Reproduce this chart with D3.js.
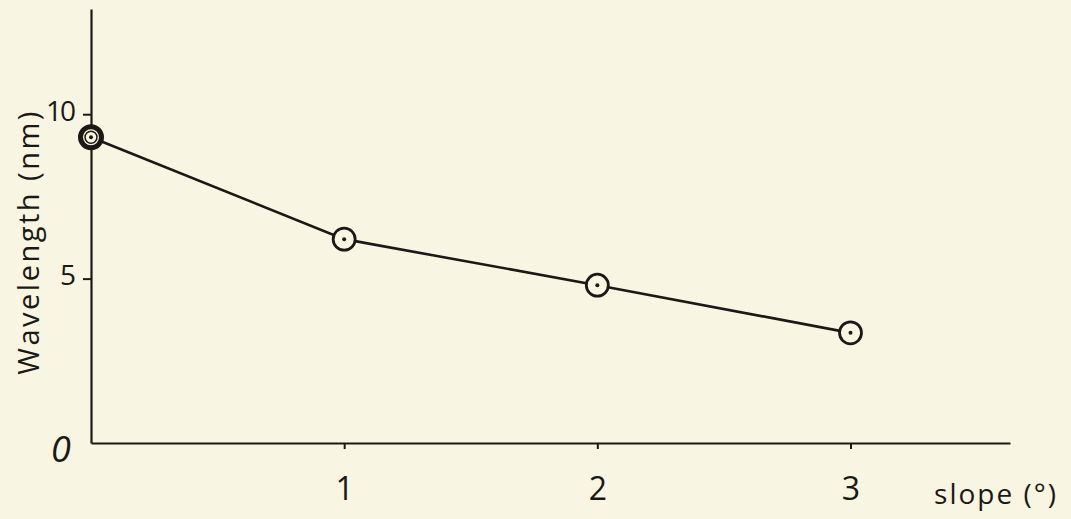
<!DOCTYPE html>
<html lang="en">
<head>
    <meta charset="UTF-8">
    <title>Wavelength vs slope</title>
    <script src="https://d3js.org/d3.v7.min.js" charset="utf-8"></script>
    <style>
        html, body {
            margin: 0;
            padding: 0;
            background: #f8f6e3;
        }
        svg {
            display: block;
            background: #f8f6e3;
        }
        text {
            font-family: 'Open Sans', sans-serif;
            fill: #1c1816;
        }
    </style>
</head>
<body>
    <div id="chart"></div>
    <script>
        // data
        var slopes = [0, 1, 2, 3];
        var wavelengths = [9.3, 6.2, 4.8, 3.35];
        var yTicks = [5, 10];
        var xTicks = [1, 2, 3];

        var svgwidth = 1071;
        var svgheight = 519;
        var ink = '#1c1816';
        var paper = '#f8f6e3';

        var svg = d3.select('#chart')
                    .append('svg')
                    .attr('width', svgwidth)
                    .attr('height', svgheight);

        // scales: origin at (91, 443), one slope unit ~253px, 5nm ~164.5px
        var x_scale = d3.scaleLinear()
                        .domain([0, 3.63])
                        .range([91, 1010]);

        var y_scale = d3.scaleLinear()
                        .domain([0, 13.2])
                        .range([443, 9]);

        var x_axis = d3.axisBottom(x_scale)
                        .tickValues(xTicks)
                        .tickSize(6)
                        .tickSizeOuter(0)
                        .tickPadding(28)
                        .tickFormat(d3.format('d'));

        var y_axis = d3.axisLeft(y_scale)
                        .tickValues(yTicks)
                        .tickSize(8)
                        .tickSizeOuter(0)
                        .tickPadding(9)
                        .tickFormat(d3.format('d'));

        var gx = svg.append('g')
            .attr('transform', 'translate(0,' + y_scale(0) + ')')
            .call(x_axis);

        var gy = svg.append('g')
            .attr('transform', 'translate(' + x_scale(0) + ',0)')
            .call(y_axis);

        // make the axes look like ink lines
        [gx, gy].forEach(function(g) {
            g.select('.domain')
                .attr('stroke', ink)
                .attr('stroke-width', 2.2);
            g.selectAll('.tick line')
                .attr('stroke', ink)
                .attr('stroke-width', 2);
            g.selectAll('.tick text')
                .attr('fill', ink)
                .style('font-family', "'Open Sans', sans-serif");
        });
        gx.selectAll('.tick text').style('font-size', '32px');
        gy.selectAll('.tick text')
            .style('font-size', '28px')
            .style('letter-spacing', '-2px')
            .attr('y', -3);

        // the origin label sits below left of the corner
        svg.append('text')
            .attr('x', x_scale(0) - 30)
            .attr('y', y_scale(0) + 19)
            .attr('text-anchor', 'middle')
            .style('font-size', '36px')
            .style('font-style', 'italic')
            .text('0');

        // axis titles
        svg.append('text')
            .attr('transform', 'translate(39,' + 242 + ') rotate(-90)')
            .attr('text-anchor', 'middle')
            .style('font-size', '29px')
            .style('letter-spacing', '2.5px')
            .text('Wavelength (nm)');

        svg.append('text')
            .attr('x', 996)
            .attr('y', 504)
            .attr('text-anchor', 'middle')
            .style('font-size', '28px')
            .style('letter-spacing', '2px')
            .text('slope (°)');

        var points = slopes.map(function(s, i) {
            return { slope: s, wl: wavelengths[i] };
        });

        var line = d3.line()
            .x(function(d) { return x_scale(d.slope); })
            .y(function(d) { return y_scale(d.wl); });

        svg.append('path')
            .datum(points)
            .attr('d', line)
            .attr('fill', 'none')
            .attr('stroke', ink)
            .attr('stroke-width', 2.6);

        // open circle markers with a dot in the middle
        svg.selectAll('.marker')
            .data(points)
            .enter().append('circle')
            .attr('class', 'marker')
            .attr('cx', function(d) { return x_scale(d.slope); })
            .attr('cy', function(d) { return y_scale(d.wl); })
            .attr('r', function(d, i) { return i === 0 ? 10.5 : 11; })
            .attr('fill', paper)
            .attr('stroke', ink)
            .attr('stroke-width', function(d, i) { return i === 0 ? 5 : 2.8; });

        // the first one was gone over twice
        svg.append('circle')
            .attr('cx', x_scale(slopes[0]))
            .attr('cy', y_scale(wavelengths[0]))
            .attr('r', 6)
            .attr('fill', 'none')
            .attr('stroke', ink)
            .attr('stroke-width', 1.5);

        svg.selectAll('.dot')
            .data(points)
            .enter().append('circle')
            .attr('class', 'dot')
            .attr('cx', function(d) { return x_scale(d.slope); })
            .attr('cy', function(d) { return y_scale(d.wl); })
            .attr('r', 2)
            .attr('fill', ink);
    </script>
</body>
</html>
